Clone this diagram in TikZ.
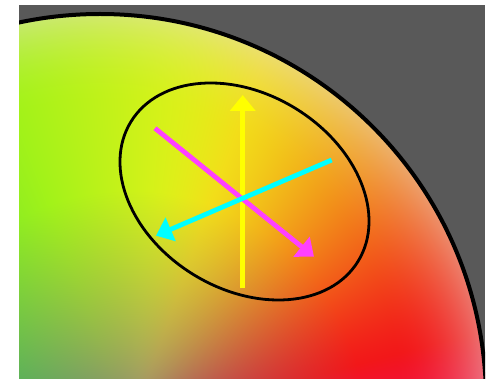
\documentclass[tikz,border=0pt]{standalone}
\usetikzlibrary{arrows.meta,shapes.geometric}
\pgfdeclarefunctionalshading{labdisk}{\pgfpointorigin}{\pgfpoint{100bp}{100bp}}{}{
exch 9.32 mul exch 7.48 mul
1 index 314 sub dup mul
1 index 166 sub dup mul add sqrt
386 exch sub 90 div 1 exch sub
dup abs add 0.5 mul
1 exch sub dup abs add 0.5 mul 1 exch sub
dup mul 0.45 mul
3 1 roll
141 sub exch 344 sub
2 copy atan
3 1 roll
dup mul exch dup mul add sqrt
235 div 1 exch sub dup abs add 0.5 mul 1 exch sub 0.75 exp
exch
dup 70 sub dup abs add 0.5 mul 2 mul 242 exch sub
exch
dup 12 sub 75 div dup abs add 0.5 mul 1 exch sub dup abs add 0.5 mul 1 exch sub
90 mul sin 1.5 exp 222 mul 20 add
1 index 110 sub dup abs add 0.5 mul 0.6 mul sub
exch
dup 15 exch sub dup abs add 0.5 mul 4 mul
exch 110 sub dup abs add 0.5 mul 0.8 mul add 25 add
128 sub 3 index mul 128 add
212 1 index sub 5 index mul add 255 div
exch
122 sub 3 index mul 122 add
222 1 index sub 5 index mul add 255 div
exch
3 -1 roll
135 sub 3 index mul 135 add
230 1 index sub 5 index mul add 255 div
3 1 roll
5 3 roll pop pop
}
\definecolor{bggray}{RGB}{89,89,89}
\definecolor{arrmag}{RGB}{255,64,255}
\definecolor{arryel}{RGB}{255,255,0}
\definecolor{arrcyan}{RGB}{0,255,255}
\begin{document}
\begin{tikzpicture}[x=1pt,y=-1pt,
  arr/.style={line width=4.8pt,-{Triangle[length=16pt,width=25pt]}},
  rim/.style={line width=4pt,black},
  ellbox/.style={draw,ellipse,line width=2.8pt,inner sep=0pt}]
\useasboundingbox (0,0) rectangle (498,379);
\fill[white] (0,0) rectangle (498,379);
\fill[bggray] (19,5) rectangle (485,379);
\begin{scope}
  \clip (19,5) rectangle (485,379);
  \clip (100,400) circle (386pt);
  \shade[shading=labdisk] (19,5) rectangle (485,379);
\end{scope}
\begin{scope}
  \clip (19,5) rectangle (485,379);
  \draw[rim] (100,400) circle (386pt);
\end{scope}
\node[ellbox, minimum width=266.6pt, minimum height=195pt, rotate=-31.6] (ell) at (244.5,191.5) {};
\coordinate (ytail) at (242.7,288.5);
\coordinate (yhead) at (242.7,95);
\coordinate (mtail) at (155,128.3);
\coordinate (mhead) at (314,256.7);
\coordinate (ctail) at (331.7,160);
\coordinate (chead) at (156,235.7);
\draw[arr, arryel] (ytail) -- (yhead);
\draw[arr, arrmag] (mtail) -- (mhead);
\draw[arr, arrcyan] (ctail) -- (chead);
\end{tikzpicture}
\end{document}
